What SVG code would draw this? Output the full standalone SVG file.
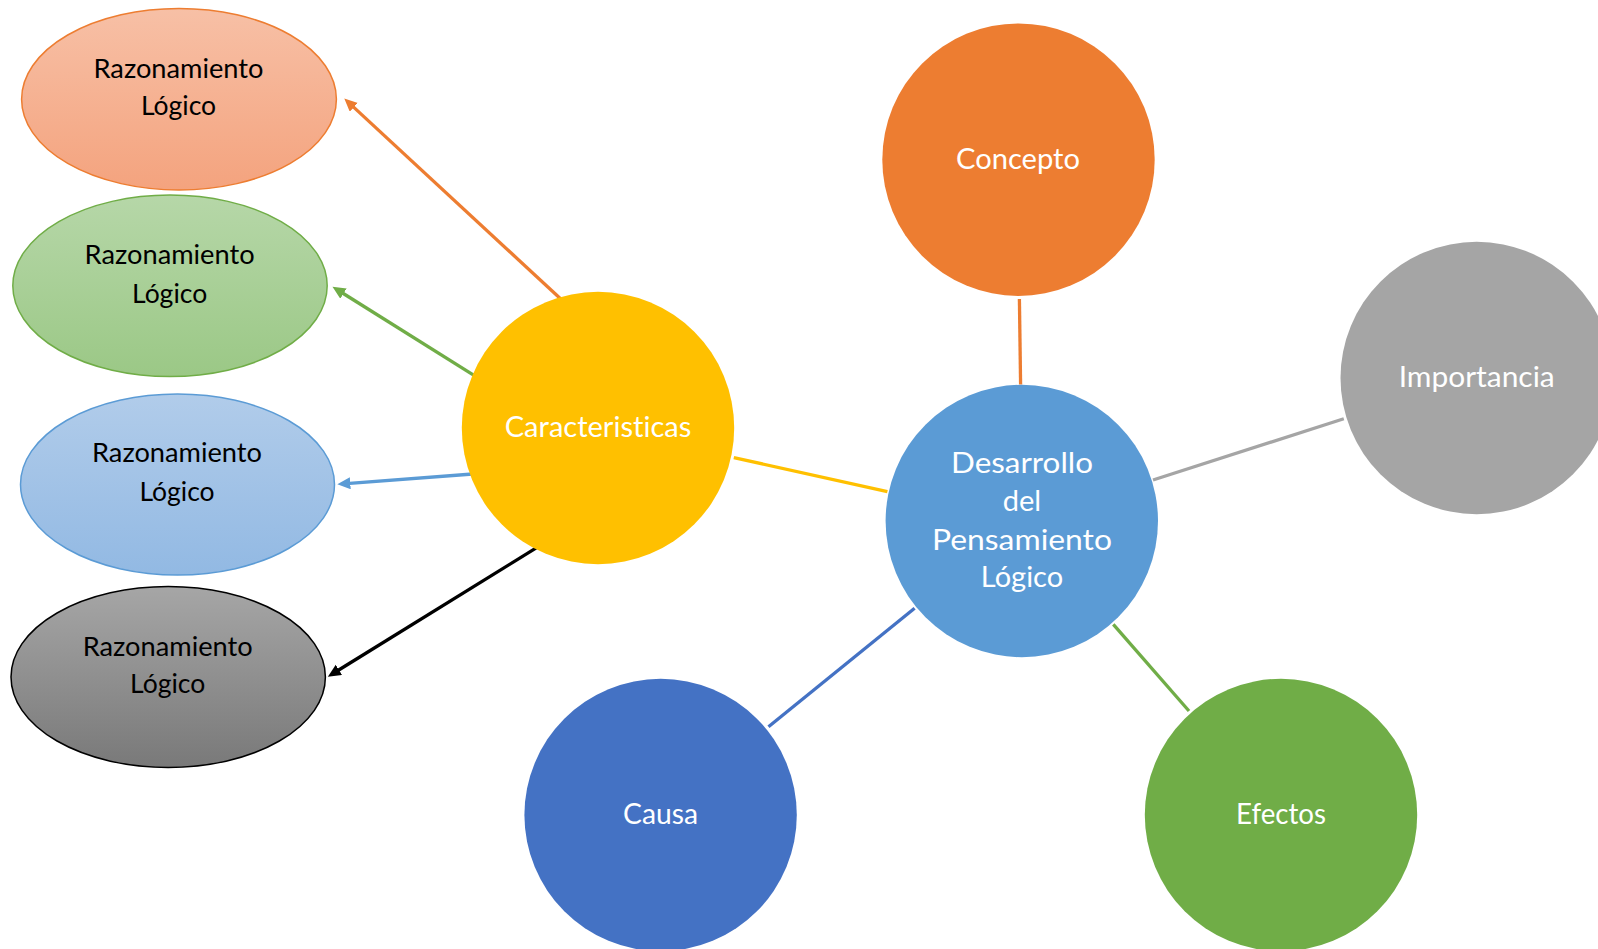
<svg xmlns="http://www.w3.org/2000/svg" width="1598" height="949" viewBox="0 0 1598 949">
<defs>
<style>
.wt{font-family:Lato,"Open Sans","Liberation Sans",sans-serif;font-size:29px;fill:#FFFFFF;text-anchor:middle;font-variant-ligatures:none}
.bt{font-family:Lato,"Open Sans","Liberation Sans",sans-serif;font-size:26.5px;fill:#000000;text-anchor:middle;font-variant-ligatures:none}
.ln{fill:none;stroke-width:3.3}
</style>
<linearGradient id="gO" x1="0" y1="0" x2="0" y2="1"><stop offset="0" stop-color="#F7C0A6"/><stop offset="1" stop-color="#F4A37E"/></linearGradient>
<linearGradient id="gG" x1="0" y1="0" x2="0" y2="1"><stop offset="0" stop-color="#B6D7A8"/><stop offset="1" stop-color="#9BC886"/></linearGradient>
<linearGradient id="gB" x1="0" y1="0" x2="0" y2="1"><stop offset="0" stop-color="#B1CCEA"/><stop offset="1" stop-color="#92B9E3"/></linearGradient>
<linearGradient id="gK" x1="0" y1="0" x2="0" y2="1"><stop offset="0" stop-color="#A6A6A6"/><stop offset="1" stop-color="#797979"/></linearGradient>
<marker id="aO" markerUnits="userSpaceOnUse" markerWidth="14" markerHeight="13" refX="4" refY="6" orient="auto"><path d="M0,0 L13,6 L0,12 z" fill="#ED7D31"/></marker>
<marker id="aG" markerUnits="userSpaceOnUse" markerWidth="14" markerHeight="13" refX="4" refY="6" orient="auto"><path d="M0,0 L13,6 L0,12 z" fill="#70AD47"/></marker>
<marker id="aB" markerUnits="userSpaceOnUse" markerWidth="14" markerHeight="13" refX="4" refY="6" orient="auto"><path d="M0,0 L13,6 L0,12 z" fill="#5B9BD5"/></marker>
<marker id="aK" markerUnits="userSpaceOnUse" markerWidth="14" markerHeight="13" refX="4" refY="6" orient="auto"><path d="M0,0 L13,6 L0,12 z" fill="#000000"/></marker>
</defs>
<rect width="1598" height="949" fill="#FFFFFF"/>

<g id="connectors">
<line class="ln" x1="560.8" y1="299" x2="350.9" y2="104.6" stroke="#ED7D31" marker-end="url(#aO)"/>
<line class="ln" x1="476" y1="376.7" x2="340.1" y2="291.5" stroke="#70AD47" marker-end="url(#aG)"/>
<line class="ln" x1="472.7" y1="474" x2="346.3" y2="483.6" stroke="#5B9BD5" marker-end="url(#aB)"/>
<line class="ln" x1="538.3" y1="546.7" x2="335.5" y2="672" stroke="#000000" marker-end="url(#aK)"/>
<line class="ln" x1="733.8" y1="457.6" x2="887.4" y2="491.6" stroke="#FFC000"/>
<line class="ln" x1="1019.4" y1="299" x2="1020.6" y2="384.5" stroke="#ED7D31" stroke-width="2.7"/>
<line class="ln" x1="1153" y1="480" x2="1343.8" y2="418.8" stroke="#A5A5A5"/>
<line class="ln" x1="914.6" y1="608.2" x2="768.5" y2="726.7" stroke="#4472C4"/>
<line class="ln" x1="1113.3" y1="624.3" x2="1189" y2="711" stroke="#70AD47"/>
</g>

<g id="n-razonamiento-1">
<ellipse cx="179" cy="99.2" rx="157.4" ry="90.8" fill="url(#gO)" stroke="#ED7D31" stroke-width="1.5"/>
<text class="bt" x="178.5" y="78.3" textLength="170" lengthAdjust="spacingAndGlyphs">Razonamiento</text>
<text class="bt" x="178.5" y="115">Lógico</text>
</g>
<g id="n-razonamiento-2">
<ellipse cx="170" cy="285.8" rx="157.2" ry="90.8" fill="url(#gG)" stroke="#70AD47" stroke-width="1.5"/>
<text class="bt" x="169.6" y="264.3" textLength="170" lengthAdjust="spacingAndGlyphs">Razonamiento</text>
<text class="bt" x="169.6" y="302.7">Lógico</text>
</g>
<g id="n-razonamiento-3">
<ellipse cx="177.5" cy="484.5" rx="157" ry="90.5" fill="url(#gB)" stroke="#5B9BD5" stroke-width="1.5"/>
<text class="bt" x="177" y="462.3" textLength="170" lengthAdjust="spacingAndGlyphs">Razonamiento</text>
<text class="bt" x="177" y="500.7">Lógico</text>
</g>
<g id="n-razonamiento-4">
<ellipse cx="168.2" cy="677" rx="157.2" ry="90.5" fill="url(#gK)" stroke="#000000" stroke-width="1.5"/>
<text class="bt" x="167.7" y="656" textLength="170" lengthAdjust="spacingAndGlyphs">Razonamiento</text>
<text class="bt" x="167.7" y="693.3">Lógico</text>
</g>

<g id="n-caracteristicas">
<circle cx="598" cy="428" r="136.2" fill="#FFC000"/>
<text class="wt" x="598" y="437.3" textLength="186.6" lengthAdjust="spacingAndGlyphs">Caracteristicas</text>
</g>
<g id="n-concepto">
<circle cx="1018.5" cy="159.7" r="136.2" fill="#ED7D31"/>
<text class="wt" x="1018" y="168.7" textLength="124" lengthAdjust="spacingAndGlyphs">Concepto</text>
</g>
<g id="n-importancia">
<circle cx="1476.7" cy="378" r="136.2" fill="#A5A5A5"/>
<text class="wt" x="1476.7" y="386.6" textLength="156" lengthAdjust="spacingAndGlyphs">Importancia</text>
</g>
<g id="n-desarrollo">
<circle cx="1021.8" cy="521" r="136.2" fill="#5B9BD5"/>
<text class="wt" x="1022" y="473.2" textLength="142" lengthAdjust="spacingAndGlyphs">Desarrollo</text>
<text class="wt" x="1022" y="511.2">del</text>
<text class="wt" x="1022" y="550" textLength="180" lengthAdjust="spacingAndGlyphs">Pensamiento</text>
<text class="wt" x="1022" y="587">Lógico</text>
</g>
<g id="n-causa">
<circle cx="660.6" cy="815" r="136.2" fill="#4472C4"/>
<text class="wt" x="660.6" y="824" textLength="75" lengthAdjust="spacingAndGlyphs">Causa</text>
</g>
<g id="n-efectos">
<circle cx="1281" cy="815" r="136.2" fill="#70AD47"/>
<text class="wt" x="1281" y="824" textLength="90" lengthAdjust="spacingAndGlyphs">Efectos</text>
</g>
</svg>
